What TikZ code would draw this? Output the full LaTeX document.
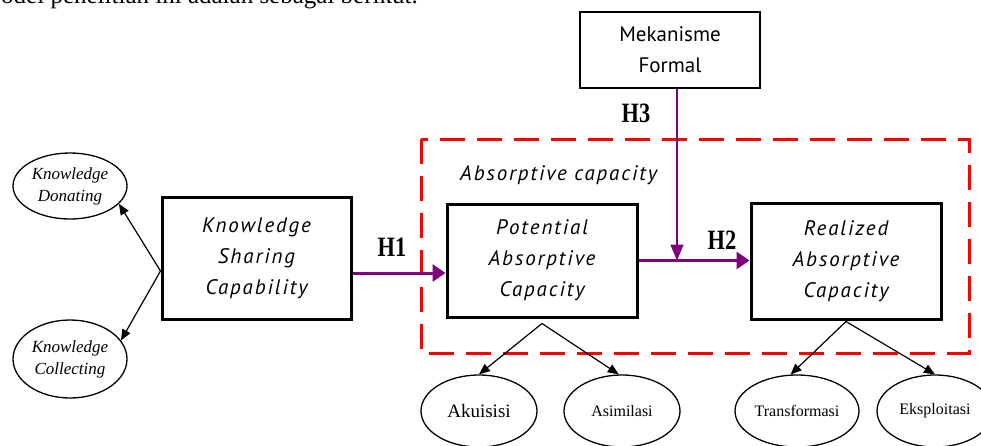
\documentclass[tikz,border=0pt]{standalone}
\usepackage{fontspec}
\setmainfont{Liberation Serif}
\newfontfamily\boxfont{PT Sans}
\newfontfamily\boxitfont[LetterSpace=9]{PT Sans Italic}
\newfontfamily\hfont[FakeStretch=0.8]{Liberation Serif}
\usetikzlibrary{arrows.meta,shapes.geometric}
\definecolor{hpurple}{RGB}{128,0,128}
\definecolor{dred}{RGB}{255,0,0}
\tikzset{
 box/.style={draw, line width=3pt, rectangle, inner sep=0pt, align=center, font=\boxitfont\fontsize{21}{31}\selectfont},
 oval/.style={draw, ellipse, line width=1.3pt, inner sep=0pt, align=center},
 hlabel/.style={font=\hfont\bfseries\fontsize{28}{30}\selectfont, inner sep=0pt},
 parrow/.style={draw=hpurple, line width=3pt, -{Triangle[length=13pt,width=17pt]}},
 varrow/.style={draw=hpurple, line width=1.8pt, -{Triangle[length=16pt,width=13pt]}},
 karrow/.style={draw=black, line width=1.2pt, -{Triangle[length=11pt,width=9pt]}},
 group/.style={draw=dred, line width=3pt, dash pattern=on 25pt off 12pt},
}
\begin{document}
\begin{tikzpicture}[x=1pt,y=-1pt]
\useasboundingbox (0,0) rectangle (981,445);
\node[anchor=base west, inner sep=0pt, font=\fontsize{25}{30}\selectfont] (intro) at (1,3) {odel penelitian ini adalah sebagai berikut.};

% group
\draw[group] (421,139) rectangle (969,353);
\node[anchor=base west, inner sep=0pt, font=\boxitfont\fontsize{21}{25}\selectfont] (abs) at (460,180) {Absorptive capacity};

% boxes
\node[box, font=\boxfont\fontsize{21}{31}\selectfont, line width=2.5pt, minimum width=180, minimum height=76] (mek) at (670,50) {Mekanisme\\Formal};
\node[box, minimum width=189, minimum height=122] (ksc) at (256.5,258) {Knowledge\\Sharing\\Capability};
\node[box, minimum width=190, minimum height=113] (pac) at (542,260.5) {Potential\\Absorptive\\Capacity};
\node[box, minimum width=190, minimum height=116] (rac) at (846,261) {Realized\\Absorptive\\Capacity};

% ellipses
\node[oval, font=\itshape\fontsize{17}{22}\selectfont, minimum width=114, minimum height=66] (kd) at (70,186) {Knowledge\\Donating};
\node[oval, font=\itshape\fontsize{17}{22}\selectfont, minimum width=114, minimum height=78] (kc) at (70,359) {Knowledge\\Collecting};
\node[oval, font=\fontsize{19}{22}\selectfont, minimum width=116, minimum height=72] (ak) at (479,411) {Akuisisi};
\node[oval, font=\fontsize{16}{20}\selectfont, minimum width=116, minimum height=72] (as) at (622,411) {Asimilasi};
\node[oval, font=\fontsize{16}{20}\selectfont, minimum width=124, minimum height=72] (tr) at (797,411) {Transformasi};
\node[oval, font=\fontsize{16}{20}\selectfont, minimum width=116, minimum height=72] (ek) at (935,411) {Eksploitasi};

% labels
\node[hlabel] (h1) at (392,247) {H1};
\node[hlabel] (h2) at (722,240) {H2};
\node[hlabel] (h3) at (636,113) {H3};

% purple connectors
\coordinate (h1s) at ([yshift=-15pt]ksc.east);
\draw[parrow] (h1s) -- (h1s -| pac.west);
\draw[parrow] (pac.east) -- (pac.east -| rac.west);
\coordinate (vx) at ([xshift=7pt]mek.south);
\draw[varrow] (vx) -- (vx |- pac.east);

% black connectors
\coordinate (ksco) at ([yshift=-13pt]ksc.west);
\draw[karrow] (ksco) -- (kd.-20);
\draw[karrow] (ksco) -- (kc.20);
\coordinate (paco) at ([yshift=-5pt]pac.south);
\draw[karrow] (paco) -- (ak.north);
\draw[karrow] (paco) -- (as.95);
\coordinate (raco) at ([yshift=-1pt]rac.south);
\draw[karrow] (raco) -- (tr.100);
\draw[karrow] (raco) -- (ek.north);
\end{tikzpicture}
\end{document}
